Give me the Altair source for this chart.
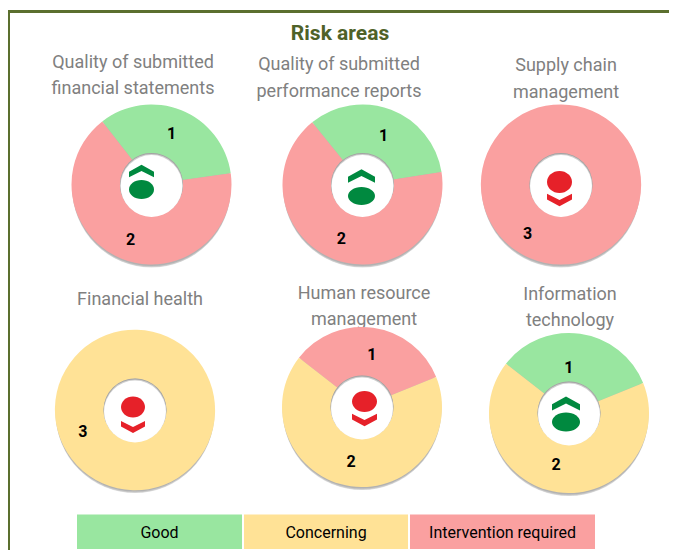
import math
import altair as alt
import pandas as pd

# ---- data ----
PANEL_TITLES = [
    ["Quality of submitted", "financial statements"],
    ["Quality of submitted", "performance reports"],
    ["Supply chain", "management"],
    ["Financial health"],
    ["Human resource", "management"],
    ["Information", "technology"],
]
PANEL_STATUS = [
    ["Good", "Intervention required"],
    ["Good", "Intervention required"],
    ["Intervention required"],
    ["Concerning"],
    ["Intervention required", "Concerning"],
    ["Good", "Concerning"],
]
PANEL_COUNTS = [[1, 2], [1, 2], [3], [3], [1, 2], [1, 2]]
PANEL_TREND = ["up", "up", "down", "down", "down", "up"]
LEGEND_NAMES = ["Good", "Concerning", "Intervention required"]
LEGEND_COLORS = ["#99E6A0", "#FFE296", "#FAA0A0"]

# ---- layout (page pixels; the page margin is removed in px/py) ----
def px(v): return v - 8
def py(v): return v - 8

CENTERS = [(151.5, 184.5), (362.5, 184.5), (561, 184.5), (135, 410), (362, 407), (569, 413)]
START_DEG = [-38, -39, 34, 69, -52, -52]
TITLE_POS = [(133, 63, 26), (339, 65, 27), (566, 66, 27), (140, 300, 0), (364, 294, 26), (570, 295, 26)]
LABEL_NUDGE = [
    [(-1, 1), (0, 4)],
    [(1, 4), (-1, 2)],
    [(-2, 3)],
    [(0, 2)],
    [(2, 3), (-3, 0)],
    [(-8, 10), (-5, -3)],
]
# disc centre x, disc centre y, disc width, disc height, chevron centre y
ICONS = [
    (141.5, 189.5, 25, 19, 171),
    (361.5, 196, 27, 18, 176),
    (559.5, 182, 25, 22, 200),
    (133, 407, 24, 21, 427),
    (364.5, 401.5, 25, 21, 420),
    (566, 422, 28, 19, 403.5),
]
LEGEND_X = [(77, 242), (244, 408), (410, 595)]
W, H = 661, 542
OUTER, INNER = 80, 31.5
LABEL_R = 56

CHEVRON_UP = "M-1,0.5 L-1,0.05 L0,-0.5 L1,0.05 L1,0.5 L0,0 Z"
CHEVRON_DOWN = "M-1,-0.5 L-1,-0.05 L0,0.5 L1,-0.05 L1,-0.5 L0,0 Z"
GREEN, RED = "#00893F", "#E62129"
FONT = "Roboto"

color_scale = alt.Scale(domain=LEGEND_NAMES, range=LEGEND_COLORS)
one = pd.DataFrame({"a": [0]})
layers = []

# frame
layers.append(alt.Chart(one).mark_rule(color="#5B6F2E", strokeWidth=3).encode(
    x=alt.value(0), x2=alt.value(W), y=alt.value(py(11.5))))
layers.append(alt.Chart(one).mark_rule(color="#5B6F2E", strokeWidth=3).encode(
    x=alt.value(0.5), y=alt.value(py(10)), y2=alt.value(H)))

# heading
layers.append(alt.Chart(pd.DataFrame({"t": ["Risk areas"]})).mark_text(
    font=FONT, fontSize=21, fontWeight="bold", color="#4F6228", baseline="middle", align="center"
).encode(text="t:N", x=alt.value(px(340)), y=alt.value(py(34))))

# panel titles, drawn under the rings
for lines, (tx, ty, step) in zip(PANEL_TITLES, TITLE_POS):
    for i, line in enumerate(lines):
        layers.append(alt.Chart(pd.DataFrame({"t": [line]})).mark_text(
            font=FONT, fontSize=18, color="#808080", baseline="middle", align="center"
        ).encode(text="t:N", x=alt.value(px(tx)), y=alt.value(py(ty + i * step))))

# rings
for k, (status, counts) in enumerate(zip(PANEL_STATUS, PANEL_COUNTS)):
    cx, cy = CENTERS[k]
    x, y = alt.value(px(cx)), alt.value(py(cy))
    for off, r, op in [(5, 78, 0.08), (4, 79, 0.12), (3, 79.5, 0.15), (2, 79.5, 0.2)]:
        layers.append(alt.Chart(one).mark_point(filled=True, shape="circle", color="#555555", opacity=op,
                                                size=(2 * r) ** 2).encode(
            x=x, y=alt.value(py(cy + off))))
    df = pd.DataFrame({
        "status": status, "count": counts, "idx": range(len(counts)),
        "lx": [px(cx) + n[0] for n in LABEL_NUDGE[k]],
        "ly": [py(cy) + n[1] for n in LABEL_NUDGE[k]],
    })
    start = math.radians(START_DEG[k])
    theta = alt.Theta("count:Q", stack=True, scale=alt.Scale(range=[start, start + 2 * math.pi]))
    arc = alt.Chart(df).mark_arc(innerRadius=INNER, outerRadius=OUTER).encode(
        theta=theta, order=alt.Order("idx:Q"),
        color=alt.Color("status:N", scale=color_scale, legend=None), x=x, y=y)
    text = alt.Chart(df).mark_text(font=FONT, fontSize=16, fontWeight="bold", color="black",
                                   radius=LABEL_R, baseline="middle", align="center").encode(
        theta=theta, order=alt.Order("idx:Q"), detail="status:N", text="count:Q",
        x=alt.X("lx:Q", scale=None, axis=None), y=alt.Y("ly:Q", scale=None, axis=None))
    layers.append(alt.layer(arc, text))
    for off, shrink, colr, op in [(0, 0, "#9A9A9A", 0.6), (0.7, 0.3, "#D0D0D0", 1), (1.5, 0.6, "#FFFFFF", 1)]:
        layers.append(alt.Chart(one).mark_point(filled=True, shape="circle", color=colr, opacity=op,
                                                size=(2 * (INNER - shrink)) ** 2).encode(
            x=x, y=alt.value(py(cy + off))))
    # trend icon
    ix, dy, dw, dh, chev_y = ICONS[k]
    up = PANEL_TREND[k] == "up"
    col = GREEN if up else RED
    ratio = dh / dw
    disc = f"M-1,0 A1,{ratio:.3f} 0 1 1 1,0 A1,{ratio:.3f} 0 1 1 -1,0 Z"
    layers.append(alt.Chart(one).mark_point(filled=True, shape=disc, color=col, opacity=1,
                                            size=dw ** 2).encode(x=alt.value(px(ix)), y=alt.value(py(dy))))
    layers.append(alt.Chart(one).mark_point(filled=True, shape=CHEVRON_UP if up else CHEVRON_DOWN,
                                            color=col, opacity=1, size=dw ** 2).encode(
        x=alt.value(px(ix)), y=alt.value(py(chev_y))))

# legend strip
leg = pd.DataFrame({
    "status": LEGEND_NAMES,
    "x0": [px(a) for a, b in LEGEND_X],
    "x1": [px(b) for a, b in LEGEND_X],
    "mid": [px((a + b) / 2) for a, b in LEGEND_X],
})
layers.append(alt.Chart(leg).mark_rect().encode(
    x=alt.X("x0:Q", scale=None, axis=None), x2="x1:Q",
    y=alt.value(py(514.5)), y2=alt.value(py(549)),
    color=alt.Color("status:N", scale=color_scale, legend=None)))
layers.append(alt.Chart(leg).mark_text(font=FONT, fontSize=16, color="black", baseline="middle", align="center").encode(
    x=alt.X("mid:Q", scale=None, axis=None), y=alt.value(py(533)), text="status:N"))

chart = alt.layer(*layers).resolve_scale(theta="independent").properties(
    width=W, height=H, padding=0, autosize=alt.AutoSizeParams(type="none"), background="white"
).configure_view(stroke=None)

chart.save("out.html", embed_options={"renderer": "svg", "actions": False})
